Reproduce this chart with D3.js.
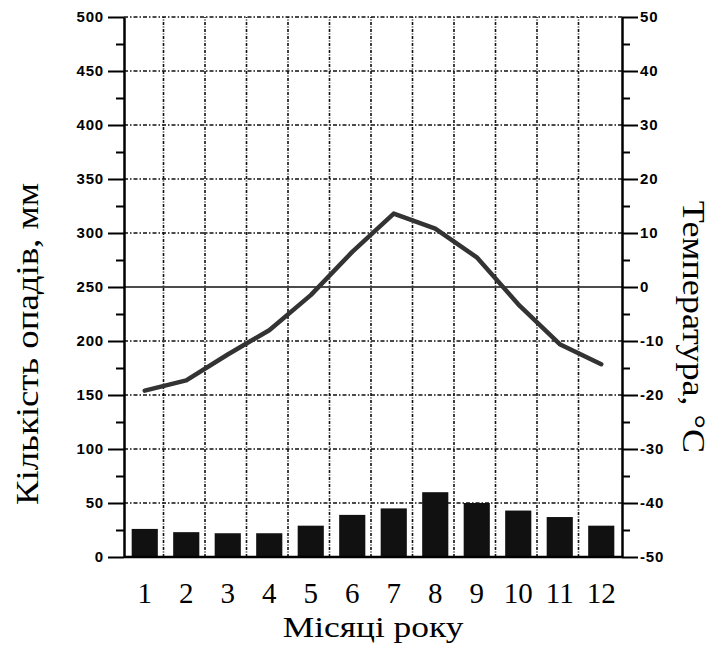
<!DOCTYPE html>
<html>
<head>
<meta charset="utf-8">
<script src="https://cdn.jsdelivr.net/npm/d3@7"></script>
<style>
  body { margin: 0; background: #fff; }
  #chart { width: 720px; height: 650px; }
</style>
</head>
<body>
<div id="chart"></div>
<script>
const months = ["1", "2", "3", "4", "5", "6", "7", "8", "9", "10", "11", "12"];
const precipitation = [26, 23, 22, 22, 29, 39, 45, 60, 50, 43, 37, 29];
const temperature = [-19.2, -17.3, -12.5, -8, -1.5, 6.5, 13.6, 10.8, 5.5, -3.2, -10.6, -14.3];
const precipTicks = [0, 50, 100, 150, 200, 250, 300, 350, 400, 450, 500];
const tempTicks = [-50, -40, -30, -20, -10, 0, 10, 20, 30, 40, 50];

function renderClimateChart(selector = "#chart") {
    const container = d3.select(selector);
    container.html("");

    const width = 720;
    const height = 650;
    const margin = { top: 17, right: 98, bottom: 93, left: 124 };

    const svg = container.append("svg")
        .attr("width", width)
        .attr("height", height)
        .style("display", "block");

    const x = d3.scaleBand()
        .domain(months)
        .range([margin.left, width - margin.right])
        .paddingInner(0.37)
        .paddingOuter(0.185);

    const yP = d3.scaleLinear()
        .domain([0, 500])
        .range([height - margin.bottom, margin.top]);

    const yT = d3.scaleLinear()
        .domain([-50, 50])
        .range([height - margin.bottom, margin.top]);

    const left = margin.left, right = width - margin.right;
    const step = x.step();

    // horizontal grid (dash-dot-dot)
    svg.append("g")
        .selectAll("line")
        .data(precipTicks.filter(d => d > 0 && d !== 250))
        .join("line")
        .attr("x1", left).attr("x2", right)
        .attr("y1", d => yP(d)).attr("y2", d => yP(d))
        .attr("stroke", "#111")
        .attr("stroke-width", 1.6)
        .attr("stroke-dasharray", "4,2,1.5,2");

    // vertical grid at month boundaries
    svg.append("g")
        .selectAll("line")
        .data(months.slice(1))
        .join("line")
        .attr("x1", d => x(d) - step * 0.185 - 2)
        .attr("x2", d => x(d) - step * 0.185 - 2)
        .attr("y1", yP(0)).attr("y2", yP(500))
        .attr("stroke", "#111")
        .attr("stroke-width", 1.6)
        .attr("stroke-dasharray", "3,1.5,1,1.5");

    // 0 °C line
    svg.append("line")
        .attr("x1", left).attr("x2", right)
        .attr("y1", yT(0)).attr("y2", yT(0))
        .attr("stroke", "#111")
        .attr("stroke-width", 1.6);

    // bars
    svg.append("g")
        .attr("fill", "#111")
        .selectAll("rect")
        .data(precipitation)
        .join("rect")
        .attr("x", (d, i) => x(months[i]))
        .attr("y", d => yP(d))
        .attr("width", x.bandwidth())
        .attr("height", d => yP(0) - yP(d));

    // temperature line
    const line = d3.line()
        .x((d, i) => x(months[i]) + x.bandwidth() / 2)
        .y(d => yT(d));

    svg.append("path")
        .datum(temperature)
        .attr("fill", "none")
        .attr("stroke", "#333")
        .attr("stroke-width", 4.5)
        .attr("stroke-linejoin", "round")
        .attr("stroke-linecap", "round")
        .attr("d", line);

    // bottom baseline
    svg.append("line")
        .attr("x1", left).attr("x2", right)
        .attr("y1", yP(0)).attr("y2", yP(0))
        .attr("stroke", "#000")
        .attr("stroke-width", 2.5);

    const tickFont = g => g.selectAll("text")
        .attr("font-family", "'Liberation Sans', Arial, sans-serif")
        .attr("font-weight", "bold")
        .attr("font-size", 15)
        .attr("letter-spacing", 0.8)
        .attr("fill", "#000");

    // left axis
    svg.append("g")
        .attr("transform", `translate(${left},0)`)
        .call(d3.axisLeft(yP).tickValues(d3.range(25, 500, 50)).tickSize(8).tickFormat(""))
        .call(g => g.select(".domain").remove())
        .call(g => g.selectAll("line").attr("stroke-width", 2));

    svg.append("g")
        .attr("transform", `translate(${left},0)`)
        .call(d3.axisLeft(yP).tickValues(precipTicks).tickSize(16).tickSizeOuter(0).tickPadding(4))
        .call(g => g.select(".domain").attr("stroke-width", 2.5))
        .call(g => g.selectAll(".tick line").attr("stroke-width", 2))
        .call(tickFont);

    // right axis
    svg.append("g")
        .attr("transform", `translate(${right},0)`)
        .call(d3.axisRight(yT).tickValues(d3.range(-45, 50, 10)).tickSize(8).tickFormat(""))
        .call(g => g.select(".domain").remove())
        .call(g => g.selectAll("line").attr("stroke-width", 2));

    svg.append("g")
        .attr("transform", `translate(${right},0)`)
        .call(d3.axisRight(yT).tickValues(tempTicks).tickSize(16).tickSizeOuter(0).tickPadding(2)
            .tickFormat(d => String(d)))
        .call(g => g.select(".domain").attr("stroke-width", 2.5))
        .call(g => g.selectAll(".tick line").attr("stroke-width", 2))
        .call(tickFont);

    const serif = "'Liberation Serif', 'Times New Roman', serif";

    // month labels
    svg.append("g")
        .attr("transform", `translate(0,${yP(0)})`)
        .call(d3.axisBottom(x).tickSize(0).tickPadding(26))
        .call(g => g.select(".domain").remove())
        .call(g => g.selectAll("text")
            .attr("dy", 0)
            .attr("y", 46)
            .attr("font-family", serif)
            .attr("font-size", 29)
            .attr("fill", "#000"));

    svg.append("text")
        .attr("transform", `translate(${(left + right) / 2},637) scale(1.18,1)`)
        .attr("text-anchor", "middle")
        .attr("font-family", serif)
        .attr("font-size", 30)
        .text("Місяці року");

    svg.append("text")
        .attr("transform", `translate(38,344) rotate(-90) scale(1.15,1)`)
        .attr("text-anchor", "middle")
        .attr("font-family", serif)
        .attr("font-size", 32)
        .text("Кількість опадів, мм");

    svg.append("text")
        .attr("transform", `translate(683,327) rotate(90) scale(1.13,1)`)
        .attr("text-anchor", "middle")
        .attr("font-family", serif)
        .attr("font-size", 32)
        .text("Температура, °C");
}

renderClimateChart();
</script>
</body>
</html>
